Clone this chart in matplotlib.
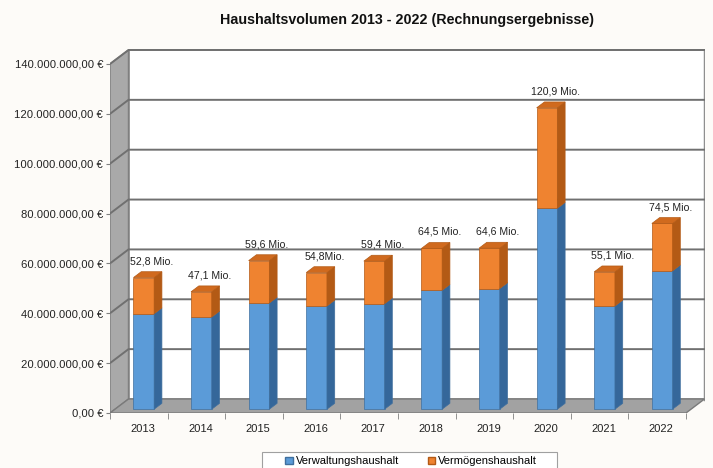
import matplotlib.pyplot as plt
from matplotlib.patches import Polygon, Rectangle, Patch
import numpy as np

# Data (values in Mio. €)
years = ["2013", "2014", "2015", "2016", "2017", "2018", "2019", "2020", "2021", "2022"]
total_mio = [52.8, 47.1, 59.6, 54.8, 59.4, 64.5, 64.6, 120.9, 55.1, 74.5]
verwaltung_mio = [38.3, 37.0, 42.6, 41.4, 42.3, 47.7, 48.4, 80.6, 41.4, 55.5]
bar_labels = ["52,8 Mio.", "47,1 Mio.", "59,6 Mio.", "54,8Mio.", "59,4 Mio.",
              "64,5 Mio.", "64,6 Mio.", "120,9 Mio.", "55,1 Mio.", "74,5 Mio."]
y_ticks = [0, 20e6, 40e6, 60e6, 80e6, 100e6, 120e6, 140e6]
series_names = ["Verwaltungshaushalt", "Vermögenshaushalt"]

plt.rcParams['font.family'] = ['Liberation Sans', 'DejaVu Sans']

W, H = 713, 468
fig = plt.figure(figsize=(W / 100, H / 100), dpi=100)
fig.patch.set_facecolor("#fdfbf8")

# plot area in pixels: front-left x=110, floor y=413, top y=49.4
px_cat = 57.6           # pixels per category
px_val = 2.493e-6       # pixels per euro
depth_px = (18.5, 14)   # depth offset of the back wall in pixels
right_px = 110 + 10 * px_cat + depth_px[0]
ax = fig.add_axes([110 / W, (H - 413) / H, (right_px - 110) / W, (413 - 49.4) / H])
ax.set_xlim(-0.5, -0.5 + (right_px - 110) / px_cat)
ax.set_ylim(0, (413 - 49.4) / px_val)
ax.set_facecolor("none")

x = np.arange(len(years))
verw = np.array(verwaltung_mio) * 1e6
tot = np.array(total_mio) * 1e6
verm = tot - verw

DX = depth_px[0] / px_cat
DY = depth_px[1] / px_val
ymax = y_ticks[-1]
x0, x1 = -0.5, len(years) - 0.5

# --- walls and floor ---
ax.add_patch(Rectangle((x0 + DX, DY), x1 - x0, ymax, facecolor="white",
                       edgecolor="#8c8c8c", lw=1.2, zorder=0))
ax.plot([x1 + DX, x1 + DX], [DY, ymax + DY], color="#8f8f8f", lw=2.5, zorder=0.5)
ax.add_patch(Polygon([(x0, 0), (x0 + DX, DY), (x0 + DX, ymax + DY), (x0, ymax)],
                     closed=True, facecolor="#a9a9a9", edgecolor="#7f7f7f", lw=1, zorder=1))
for v in y_ticks[1:]:
    ax.plot([x0, x0 + DX, x1 + DX], [v, v + DY, v + DY], color="#707070", lw=1.4, zorder=1.5)
ax.add_patch(Polygon([(x0, 0), (x1, 0), (x1 + DX, DY), (x0 + DX, DY)],
                     closed=True, facecolor="#a2a2a2", edgecolor="#7a7a7a", lw=1, zorder=2))

# --- 3D bars ---
blue, blue_side, blue_edge = "#5b9bd8", "#35679a", "#3f6f9e"
orange, orange_side, orange_top = "#ef8330", "#b35a15", "#d06a1e"
bw = 20.7 / px_cat
f0, fd = 0.27, 0.42
ox, oy = f0 * DX, f0 * DY
sx, sy = fd * DX, fd * DY

ax.bar(x + ox, verw, bw, bottom=oy, color=blue, edgecolor=blue_edge, lw=0.5, zorder=3)
ax.bar(x + ox, verm, bw, bottom=verw + oy, color=orange, edgecolor=orange_side, lw=0.5, zorder=3)

for xi, b, t in zip(x, verw, tot):
    xr = xi + ox + bw / 2
    xl = xi + ox - bw / 2
    ax.add_patch(Polygon([(xr, oy), (xr + sx, oy + sy), (xr + sx, b + oy + sy), (xr, b + oy)],
                         closed=True, facecolor=blue_side, edgecolor=blue_edge, lw=0.5, zorder=3))
    ax.add_patch(Polygon([(xr, b + oy), (xr + sx, b + oy + sy), (xr + sx, t + oy + sy), (xr, t + oy)],
                         closed=True, facecolor=orange_side, edgecolor=orange_side, lw=0.5, zorder=3))
    ax.add_patch(Polygon([(xl, t + oy), (xr, t + oy), (xr + sx, t + oy + sy), (xl + sx, t + oy + sy)],
                         closed=True, facecolor=orange_top, edgecolor=orange_side, lw=0.5, zorder=3))

for xi, t, lab in zip(x, tot, bar_labels):
    ax.annotate(lab, xy=(xi + ox + 0.14, t + oy + sy), xytext=(0, 4), textcoords="offset points",
                ha="center", va="bottom", fontsize=7.6, color="#222222", zorder=4)

# --- axes formatting ---
for s in ax.spines.values():
    s.set_visible(False)

def euro(v):
    s = f"{v:,.2f}".replace(",", "X").replace(".", ",").replace("X", ".")
    return s + " €"

ax.set_yticks(y_ticks)
ax.set_yticklabels([euro(v) for v in y_ticks], fontsize=8.1, color="#222222")
ax.tick_params(axis="y", length=3, color="#7f7f7f", pad=2)

ax.set_xticks(x + 0.07)
ax.set_xticklabels(years, fontsize=8, color="#222222")
ax.set_xticks(np.arange(x0, x1 + 1), minor=True)
ax.tick_params(axis="x", which="major", length=0, pad=8)
ax.tick_params(axis="x", which="minor", length=4, color="#7f7f7f")

fig.text(407 / W, 1 - 20 / H, "Haushaltsvolumen 2013 - 2022 (Rechnungsergebnisse)",
         ha="center", va="center", fontsize=10.3, fontweight="bold", color="#111111")

# legend (frame drawn separately, cut off by the figure edge like the original)
fig.patches.append(Rectangle((262 / W, -0.05), (557 - 262) / W, 0.05 + (468 - 452) / H,
                             transform=fig.transFigure, facecolor="white",
                             edgecolor="#a0a0a0", lw=0.8, zorder=1))
handles = [Patch(facecolor=blue, edgecolor=blue_edge), Patch(facecolor=orange, edgecolor=orange_side)]
leg = fig.legend(handles, series_names, loc="upper center", bbox_to_anchor=(411 / W, 1 - 453 / H),
                 ncol=2, fontsize=8, frameon=False,
                 handlelength=0.7, handleheight=0.7, handletextpad=0.2, columnspacing=2.6,
                 borderpad=0.3, borderaxespad=0)
leg.set_zorder(2)

plt.savefig("out.png", dpi=100)
